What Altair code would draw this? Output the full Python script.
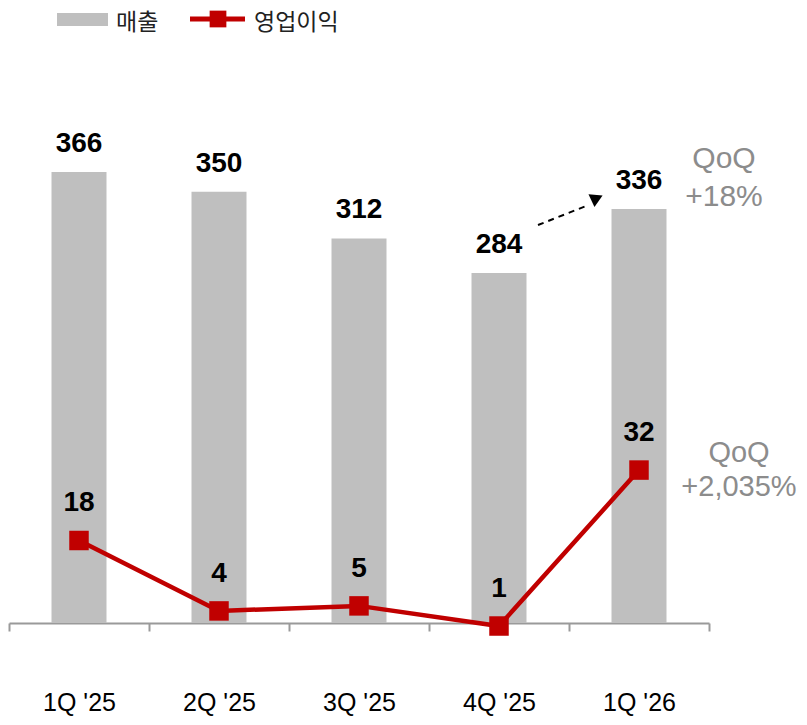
import altair as alt
import pandas as pd

# ---- data ----
quarters = ["1Q '25", "2Q '25", "3Q '25", "4Q '25", "1Q '26"]
revenue = [366, 350, 312, 284, 336]          # 매출
op_profit = [18, 4, 5, 1, 32]                # 영업이익
qoq_labels = ["QoQ", "+18%", "QoQ", "+2,035%"]
legend_labels = ["매출", "영업이익"]

BAR = "#BFBFBF"
RED = "#C00000"
GRAY_TXT = "#8C8C8C"
FONT = "Liberation Sans"
KFONT = "Noto Sans CJK KR"

df = pd.DataFrame({"q": quarters, "rev": revenue, "op": op_profit})

xscale = alt.Scale(domain=quarters, paddingInner=0, paddingOuter=0)
xenc = alt.X(
    "q:N",
    scale=xscale,
    axis=alt.Axis(
        title=None,
        labelAngle=0,
        tickBand="extent",
        tickSize=8,
        tickColor="#9A9A9A",
        tickWidth=2,
        domainColor="#9A9A9A",
        domainWidth=2,
        labelFont=FONT,
        labelFontSize=25,
        labelColor="#000000",
        labelPadding=59,
    ),
)
rev_scale = alt.Scale(domain=[0, 400], nice=False, zero=True)
yrev = alt.Y("rev:Q", scale=rev_scale, axis=None)
yop = alt.Y("op:Q", scale=alt.Scale(domain=[1.6, 99.6], nice=False, zero=False), axis=None)

base = alt.Chart(df)

bars = base.mark_bar(size=55, color=BAR).encode(x=xenc, y=yrev)
bar_lbl = base.mark_text(
    dy=-28, fontSize=28, fontWeight="bold", font=FONT, color="#000000", baseline="middle"
).encode(x=alt.X("q:N", scale=xscale), y=yrev, text="rev:Q")

# QoQ annotations (revenue scale)
ann_top = pd.DataFrame({"q": ["1Q '26", "1Q '26"], "v": [376.5, 345.6], "t": qoq_labels[:2]})
ann_bot = pd.DataFrame({"q": ["1Q '26", "1Q '26"], "v": [137.9, 110.3], "t": qoq_labels[2:]})
qoq_top = alt.Chart(ann_top).mark_text(
    dx=85, fontSize=30, font=FONT, color=GRAY_TXT, baseline="middle"
).encode(x=alt.X("q:N", scale=xscale), y=alt.Y("v:Q", scale=rev_scale, axis=None), text="t:N")
qoq_bot = alt.Chart(ann_bot).mark_text(
    dx=100, fontSize=29, font=FONT, color=GRAY_TXT, baseline="middle"
).encode(x=alt.X("q:N", scale=xscale), y=alt.Y("v:Q", scale=rev_scale, axis=None), text="t:N")

# dashed arrow between 4Q '25 and 1Q '26
arrow_df = pd.DataFrame({"a": ["4Q '25"], "b": ["1Q '26"], "y1": [322.9], "y2": [338.3]})
arrow = alt.Chart(arrow_df).mark_rule(
    xOffset=39, x2Offset=-53, strokeDash=[6, 5], strokeWidth=2, color="#000000"
).encode(
    x=alt.X("a:N", scale=xscale),
    x2="b:N",
    y=alt.Y("y1:Q", scale=rev_scale, axis=None),
    y2="y2:Q",
)
head_df = pd.DataFrame({"q": ["1Q '26"], "y": [342.4]})
arrow_head = alt.Chart(head_df).mark_point(
    shape="triangle-down", filled=True, size=200, color="#000000", opacity=1, xOffset=-44, angle=5
).encode(x=alt.X("q:N", scale=xscale), y=alt.Y("y:Q", scale=rev_scale, axis=None))

# legend (manual)
leg = alt.Chart(pd.DataFrame({"d": [0]}))
leg_rect = leg.mark_rect(color=BAR).encode(
    x=alt.value(48), x2=alt.value(99), y=alt.value(-117), y2=alt.value(-104)
)
leg_txt1 = leg.mark_text(align="left", baseline="middle", fontSize=23, font=KFONT, color="#222222").encode(
    x=alt.value(107), y=alt.value(-107), text=alt.value(legend_labels[0])
)
leg_line = leg.mark_rule(color=RED, strokeWidth=5).encode(
    x=alt.value(181), x2=alt.value(236), y=alt.value(-111)
)
leg_sq = leg.mark_point(shape="square", filled=True, size=280, color=RED, opacity=1).encode(
    x=alt.value(209), y=alt.value(-111)
)
leg_txt2 = leg.mark_text(align="left", baseline="middle", fontSize=23, font=KFONT, color="#222222").encode(
    x=alt.value(245), y=alt.value(-107), text=alt.value(legend_labels[1])
)

bar_layer = alt.layer(bars, bar_lbl, qoq_top, qoq_bot, arrow, arrow_head,
                      leg_rect, leg_txt1, leg_line, leg_sq, leg_txt2)

line = base.mark_line(color=RED, strokeWidth=4.5).encode(x=alt.X("q:N", scale=xscale), y=yop)
pts = base.mark_point(shape="square", filled=True, size=380, color=RED, opacity=1).encode(
    x=alt.X("q:N", scale=xscale), y=yop
)
op_lbl = base.mark_text(
    dy=-37, fontSize=28, fontWeight="bold", font=FONT, color="#000000", baseline="middle"
).encode(x=alt.X("q:N", scale=xscale), y=yop, text="op:Q")
line_layer = alt.layer(line, pts, op_lbl)

chart = (
    alt.layer(bar_layer, line_layer)
    .resolve_scale(y="independent")
    .properties(
        width=700,
        height=493,
        padding={"left": 1, "top": 122, "right": 90, "bottom": 94},
        autosize=alt.AutoSizeParams(type="none"),
    )
    .configure_view(stroke=None)
)

chart.save("out.html", embed_options={"renderer": "svg", "actions": False})
